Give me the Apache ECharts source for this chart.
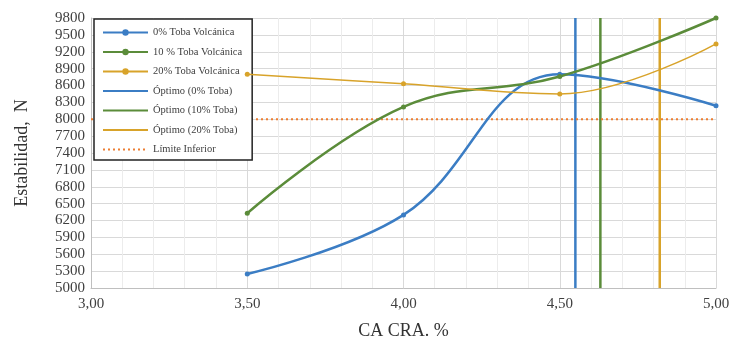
<!DOCTYPE html>
<html>
<head>
<meta charset="utf-8">
<script src="https://cdn.jsdelivr.net/npm/echarts@6/dist/echarts.min.js"></script>
<style>
  html, body { margin: 0; padding: 0; background: #fff; }
  #ec { width: 737px; height: 342px; }
</style>
</head>
<body>
<div id="ec"></div>
<script>
// CA CRA (%) on x
const caCra = [3.5, 4.0, 4.5, 5.0];
// Estabilidad (N) for each toba content
const toba0 = [5250, 6300, 8800, 8240];
const toba10 = [6330, 8220, 8760, 9800];
const toba20 = [8800, 8630, 8450, 9340];
// optimum CA for each mix
const optimo0 = 4.55;
const optimo10 = 4.63;
const optimo20 = 4.82;
const limiteInferior = 8000;
const yRange = [5000, 9800];
const xRange = [3, 5];

const blue = "#3b7dc4";
const green = "#5b8c3a";
const gold = "#d8a32a";
const orange = "#ed7d31";
const serif = "Liberation Serif";

function pts(ys) {
  return caCra.map((x, i) => [x, ys[i]]);
}
function vline(x) {
  return [[x, yRange[0]], [x, yRange[1]]];
}

const noMarker = { itemStyle: { opacity: 0 } };

const myChart = echarts.init(document.getElementById("ec"));
myChart.setOption({
  animation: false,
  grid: { left: 91, right: 21, top: 18, bottom: 54, outerBoundsMode: "none" },
  legend: {
    orient: "vertical",
    left: 94,
    top: 19,
    itemWidth: 45,
    itemHeight: 8,
    itemGap: 8.5,
    padding: [8, 10, 5, 8],
    backgroundColor: "#fff",
    borderColor: "#222",
    borderWidth: 1.5,
    textStyle: { fontFamily: serif, fontSize: 10.5, color: "#404040" },
    data: [
      { name: "0% Toba Volcánica" },
      { name: "10 % Toba Volcánica" },
      { name: "20% Toba Volcánica" },
      Object.assign({ name: "Óptimo (0% Toba)" }, noMarker),
      Object.assign({ name: "Óptimo (10% Toba)" }, noMarker),
      Object.assign({ name: "Óptimo (20% Toba)" }, noMarker),
      Object.assign({ name: "Límite Inferior" }, noMarker),
    ],
  },
  xAxis: {
    type: "value",
    min: xRange[0],
    max: xRange[1],
    interval: 0.5,
    name: "CA CRA. %",
    nameLocation: "middle",
    nameGap: 34,
    nameTextStyle: { fontFamily: serif, fontSize: 18, color: "#333" },
    axisLine: { lineStyle: { color: "#bfbfbf" } },
    axisTick: { show: false },
    axisLabel: {
      fontFamily: serif,
      fontSize: 15,
      color: "#404040",
      margin: 9,
      formatter: (v) => v.toFixed(2).replace(".", ","),
    },
    splitLine: { show: true, lineStyle: { color: "#d9d9d9" } },
    minorTick: { show: false, splitNumber: 5 },
    minorSplitLine: { show: true, lineStyle: { color: "#ececec" } },
  },
  yAxis: {
    type: "value",
    min: yRange[0],
    max: yRange[1],
    interval: 300,
    name: "Estabilidad,  N",
    nameLocation: "middle",
    nameGap: 60,
    nameTextStyle: { fontFamily: serif, fontSize: 18, color: "#333" },
    axisLine: { show: true, lineStyle: { color: "#bfbfbf" } },
    axisTick: { show: false },
    axisLabel: {
      fontFamily: serif,
      fontSize: 15,
      color: "#404040",
      margin: 6,
      formatter: (v) => String(v),
    },
    splitLine: { show: true, lineStyle: { color: "#d9d9d9" } },
  },
  series: [
    {
      name: "0% Toba Volcánica",
      type: "line",
      data: pts(toba0),
      smooth: 0.4,
      symbol: "circle",
      symbolSize: 5,
      itemStyle: { color: blue },
      lineStyle: { width: 2.5, color: blue },
      z: 5,
    },
    {
      name: "10 % Toba Volcánica",
      type: "line",
      data: pts(toba10),
      smooth: 0.4,
      symbol: "circle",
      symbolSize: 5,
      itemStyle: { color: green },
      lineStyle: { width: 2.5, color: green },
      z: 5,
    },
    {
      name: "20% Toba Volcánica",
      type: "line",
      data: pts(toba20),
      smooth: 0.4,
      symbol: "circle",
      symbolSize: 5,
      itemStyle: { color: gold },
      lineStyle: { width: 1.5, color: gold },
      z: 5,
    },
    {
      name: "Óptimo (0% Toba)",
      type: "line",
      data: vline(optimo0),
      symbol: "none",
      itemStyle: { color: blue },
      lineStyle: { width: 2.5, color: blue },
    },
    {
      name: "Óptimo (10% Toba)",
      type: "line",
      data: vline(optimo10),
      symbol: "none",
      itemStyle: { color: green },
      lineStyle: { width: 2.5, color: green },
    },
    {
      name: "Óptimo (20% Toba)",
      type: "line",
      data: vline(optimo20),
      symbol: "none",
      itemStyle: { color: gold },
      lineStyle: { width: 2.5, color: gold },
    },
    {
      name: "Límite Inferior",
      type: "line",
      data: [[xRange[0], limiteInferior], [xRange[1], limiteInferior]],
      symbol: "none",
      itemStyle: { color: orange },
      lineStyle: { width: 2, color: orange, type: [2, 3] },
    },
  ],
});
</script>
</body>
</html>
